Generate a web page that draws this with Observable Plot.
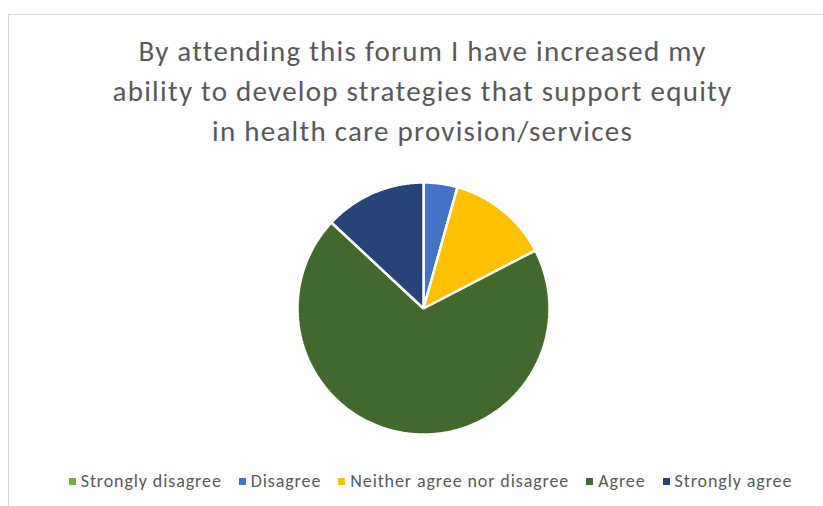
<!DOCTYPE html>
<html>
<head>
<meta charset="utf-8">
<script src="https://cdn.jsdelivr.net/npm/d3@7"></script>
<script src="https://cdn.jsdelivr.net/npm/@observablehq/plot@0.6"></script>
<style>
  html, body { margin: 0; padding: 0; background: #fff; }
  body { width: 823px; height: 506px; position: relative; overflow: hidden;
         font-family: Carlito, Calibri, Lato, "Liberation Sans", sans-serif; }
  #frame { position: absolute; left: 8px; top: 14px; width: 830px; height: 500px;
           border-left: 1px solid #d9d9d9; border-top: 1px solid #d9d9d9; }
  #title { position: absolute; left: 0; width: 845px; top: 31px; text-align: center;
           color: #595959; font-size: 29px; line-height: 40px; letter-spacing: 1.25px; }
  #chart { position: absolute; left: 0; top: 160px; }
  #legend { position: absolute; left: 0; width: 861px; top: 470px; display: flex;
            justify-content: center; gap: 17px; color: #595959; font-size: 18px; line-height: 22px;
            letter-spacing: 0.9px; }
  .item { display: flex; align-items: center; gap: 5px; white-space: nowrap; }
  .sw { width: 7px; height: 7px; display: inline-block; }
</style>
</head>
<body>
<div id="frame"></div>
<div id="title"></div>
<div id="chart"></div>
<div id="legend"></div>
<script>
const titleLines = [
  "By attending this forum I have increased my",
  "ability to develop strategies that support equity",
  "in health care provision/services"
];
const categories = ["Strongly disagree", "Disagree", "Neither agree nor disagree", "Agree", "Strongly agree"];
const counts = [0, 1, 3, 16, 3];
const colors = ["#70AD47", "#4472C4", "#FFC000", "#43682B", "#264478"];

document.getElementById("title").innerHTML = titleLines.map(t => `<div>${t}</div>`).join("");

const arcs = d3.pie().sort(null).value(d => d.count)(categories.map((c, i) => ({category: c, count: counts[i]})));
const pts = [];
for (const a of arcs) {
  if (a.value === 0) continue;
  const cat = a.data.category;
  pts.push({category: cat, x: 0, y: 0});
  const n = Math.max(2, Math.ceil((a.endAngle - a.startAngle) / 0.01));
  for (let k = 0; k <= n; k++) {
    const t = a.startAngle + (a.endAngle - a.startAngle) * k / n;
    pts.push({category: cat, x: Math.sin(t), y: Math.cos(t)});
  }
}

const chart = Plot.plot({
  width: 823,
  height: 300,
  x: {domain: [-1, 1], range: [297, 549], axis: null},
  y: {domain: [-1, 1], range: [274, 22], axis: null},
  color: {domain: categories, range: colors},
  marks: [
    Plot.line(pts, {x: "x", y: "y", z: "category", fill: "category", stroke: "white",
                    strokeWidth: 2.5, curve: "linear-closed", strokeLinejoin: "miter"})
  ]
});
document.getElementById("chart").appendChild(chart);

document.getElementById("legend").innerHTML = categories.map((c, i) =>
  `<span class="item"><span class="sw" style="background:${colors[i]}"></span>${c}</span>`).join("");
</script>
</body>
</html>
